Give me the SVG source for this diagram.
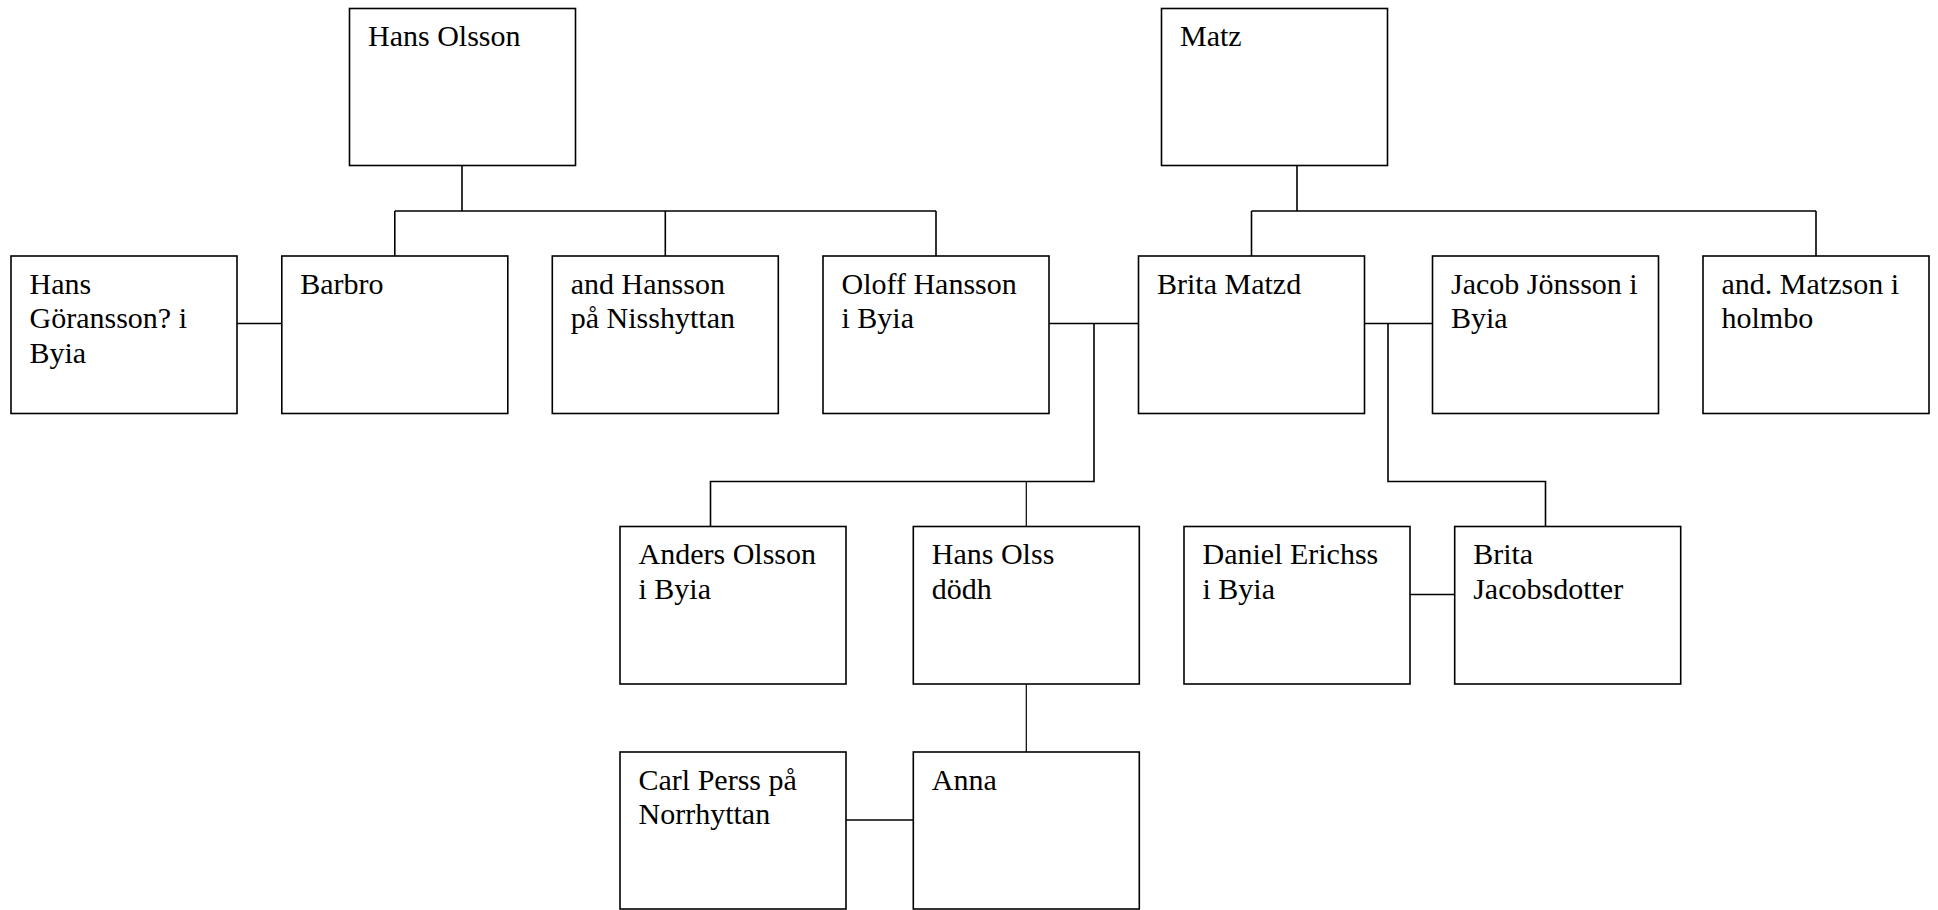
<svg xmlns="http://www.w3.org/2000/svg" width="1938" height="910" viewBox="0 0 1938 910">
<style>
.box{fill:#fff;stroke:#000;stroke-width:1.6}
.ln{fill:none;stroke:#000;stroke-width:1.6}
.thin{fill:none;stroke:#000;stroke-width:1.2}
text{font-family:"Liberation Serif","Times New Roman",serif;font-size:30px;fill:#000}
</style>
<rect width="1938" height="910" fill="#fff"/>
<g id="connectors">
<path class="ln" d="M462,165.5V211M394.8,211H936M394.8,211V256M665.3,211V256M936,211V256"/>
<path class="ln" d="M1297,165.5V211M1251.5,211H1816M1251.5,211V256M1816,211V256"/>
<path class="ln" d="M237,323.5H281.8"/>
<path class="ln" d="M1049,323.5H1138.5M1094,323.5V481.5H710.5V526.5"/>
<path class="thin" d="M1026.3,481.5V526.5"/>
<path class="ln" d="M1364.5,323.5H1432.5M1388,323.5V481.5H1545.5V526.5"/>
<path class="ln" d="M1410,594.5H1454.7"/>
<path class="thin" d="M1026.3,684V752"/>
<path class="ln" d="M846,820H913.3"/>
</g>
<g id="n-hans-olsson"><rect class="box" x="349.5" y="8.5" width="226" height="157"/><text x="368" y="46">Hans Olsson</text></g>
<g id="n-matz"><rect class="box" x="1161.5" y="8.5" width="226" height="157"/><text x="1180" y="46">Matz</text></g>
<g id="n-hans-goransson"><rect class="box" x="11" y="256" width="226" height="157.5"/><text x="29.5" y="293.5">Hans<tspan x="29.5" dy="34.7">Göransson? i</tspan><tspan x="29.5" dy="34.7">Byia</tspan></text></g>
<g id="n-barbro"><rect class="box" x="281.8" y="256" width="226" height="157.5"/><text x="300.3" y="293.5">Barbro</text></g>
<g id="n-and-hansson"><rect class="box" x="552.3" y="256" width="226" height="157.5"/><text x="570.8" y="293.5">and Hansson<tspan x="570.8" dy="34.7">på Nisshyttan</tspan></text></g>
<g id="n-oloff"><rect class="box" x="823" y="256" width="226" height="157.5"/><text x="841.5" y="293.5">Oloff Hansson<tspan x="841.5" dy="34.7">i Byia</tspan></text></g>
<g id="n-brita-matzd"><rect class="box" x="1138.5" y="256" width="226" height="157.5"/><text x="1157" y="293.5">Brita Matzd</text></g>
<g id="n-jacob"><rect class="box" x="1432.5" y="256" width="226" height="157.5"/><text x="1451" y="293.5">Jacob Jönsson i<tspan x="1451" dy="34.7">Byia</tspan></text></g>
<g id="n-and-matzson"><rect class="box" x="1703" y="256" width="226" height="157.5"/><text x="1721.5" y="293.5">and. Matzson i<tspan x="1721.5" dy="34.7">holmbo</tspan></text></g>
<g id="n-anders"><rect class="box" x="620" y="526.5" width="226" height="157.5"/><text x="638.5" y="564">Anders Olsson<tspan x="638.5" dy="34.7">i Byia</tspan></text></g>
<g id="n-hans-olss"><rect class="box" x="913.3" y="526.5" width="226" height="157.5"/><text x="931.8" y="564">Hans Olss<tspan x="931.8" dy="34.7">dödh</tspan></text></g>
<g id="n-daniel"><rect class="box" x="1184" y="526.5" width="226" height="157.5"/><text x="1202.5" y="564">Daniel Erichss<tspan x="1202.5" dy="34.7">i Byia</tspan></text></g>
<g id="n-brita-jacobsdotter"><rect class="box" x="1454.7" y="526.5" width="226" height="157.5"/><text x="1473.2" y="564">Brita<tspan x="1473.2" dy="34.7">Jacobsdotter</tspan></text></g>
<g id="n-carl"><rect class="box" x="620" y="752" width="226" height="157"/><text x="638.5" y="789.5">Carl Perss på<tspan x="638.5" dy="34.7">Norrhyttan</tspan></text></g>
<g id="n-anna"><rect class="box" x="913.3" y="752" width="226" height="157"/><text x="931.8" y="789.5">Anna</text></g>
</svg>
